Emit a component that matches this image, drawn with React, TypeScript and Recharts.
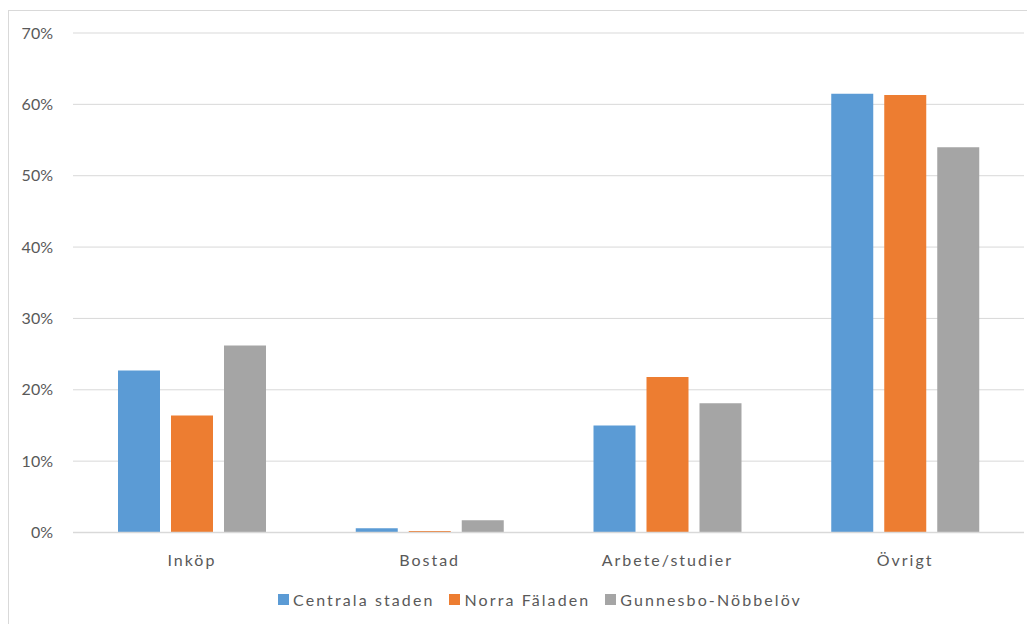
import React from 'react';
import { BarChart, Bar, XAxis, YAxis, CartesianGrid } from 'recharts';

const categories = ['Inköp', 'Bostad', 'Arbete/studier', 'Övrigt'];

// share of trips per purpose, by district
const centralaStaden = [0.227, 0.006, 0.15, 0.615];
const norraFaladen = [0.164, 0.002, 0.218, 0.613];
const gunnesboNobbelov = [0.262, 0.017, 0.181, 0.54];

const yTicks = [0, 0.1, 0.2, 0.3, 0.4, 0.5, 0.6, 0.7];

const SERIES = [
  { key: 'centrala', name: 'Centrala staden', color: '#5b9bd5' },
  { key: 'norra', name: 'Norra Fäladen', color: '#ed7d31' },
  { key: 'gunnesbo', name: 'Gunnesbo-Nöbbelöv', color: '#a5a5a5' },
];

const FONT = 'Lato, "Open Sans", sans-serif';
const TEXT = '#595959';

const data = categories.map((name, i) => ({
  name,
  centrala: centralaStaden[i],
  norra: norraFaladen[i],
  gunnesbo: gunnesboNobbelov[i],
}));

const pct = (v: number) => `${Math.round(v * 100)}%`;

export default function App() {
  return (
    <div
      style={{
        position: 'relative',
        width: 1027,
        height: 614,
        marginTop: 2,
        overflow: 'hidden',
        fontFamily: FONT,
      }}
    >
      <div
        style={{
          position: 'absolute',
          left: 0,
          top: 0,
          width: 1040,
          height: 630,
          border: '1px solid #d9d9d9',
          pointerEvents: 'none',
        }}
      />
      <BarChart
        width={1027}
        height={614}
        data={data}
        margin={{ top: 23, right: 11, bottom: 61.5, left: 10 }}
        barCategoryGap={45}
        barGap={11}
      >
        <CartesianGrid vertical={false} stroke="#d9d9d9" strokeWidth={1} />
        <XAxis
          dataKey="name"
          height={30}
          axisLine={{ stroke: '#d9d9d9', strokeWidth: 1.5 }}
          tickLine={false}
          tickMargin={16}
          tick={{ fill: TEXT, fontSize: 16, fontFamily: FONT, letterSpacing: 2 }}
        />
        <YAxis
          width={55}
          domain={[0, 0.7]}
          ticks={yTicks}
          tickFormatter={pct}
          axisLine={false}
          tickLine={false}
          tickSize={0}
          tickMargin={20}
          tick={{ fill: TEXT, fontSize: 16, fontFamily: FONT }}
        />
        {SERIES.map((s) => (
          <Bar key={s.key} dataKey={s.key} name={s.name} fill={s.color} isAnimationActive={false} />
        ))}
      </BarChart>
      <div
        style={{
          position: 'absolute',
          left: 0,
          top: 580,
          width: 1064,
          display: 'flex',
          justifyContent: 'center',
          gap: 15,
          fontSize: 16,
          letterSpacing: 2.1,
          color: TEXT,
        }}
      >
        {SERIES.map((s) => (
          <div key={s.key} style={{ display: 'flex', alignItems: 'center' }}>
            <span style={{ display: 'inline-block', width: 11, height: 11, background: s.color, marginRight: 4 }} />
            <span>{s.name}</span>
          </div>
        ))}
      </div>
    </div>
  );
}
